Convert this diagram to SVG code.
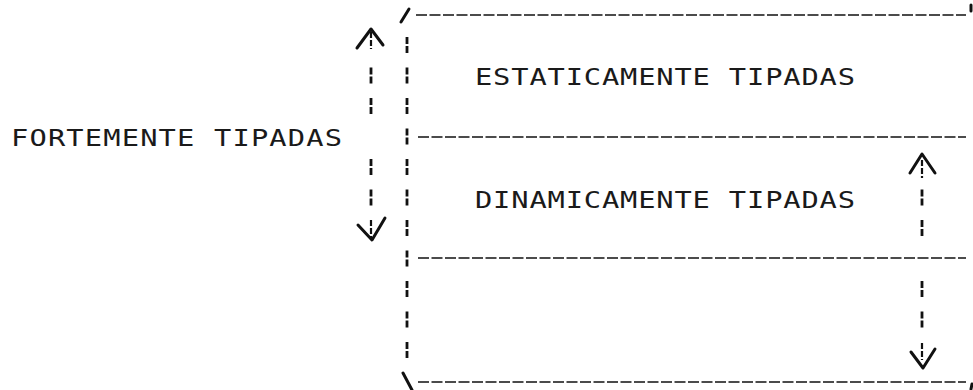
<svg xmlns="http://www.w3.org/2000/svg" width="973" height="390" viewBox="0 0 973 390">
<style>
.t{font-family:"DejaVu Sans Mono","Liberation Mono",monospace;font-size:23px;fill:#1a1a1a;}
.h{stroke:#111;stroke-width:1.7;stroke-dasharray:11 2.5;fill:none;}
.v{stroke:#111;stroke-width:2.8;stroke-dasharray:7 2 7 14.5;fill:none;}
.s{stroke:#111;stroke-width:3;fill:none;stroke-linecap:round;stroke-linejoin:round;}
.d{stroke:#111;stroke-width:2.2;stroke-dasharray:6 2;fill:none;}
</style>
<rect width="973" height="390" fill="#fff"/>
<g id="connectors">
<path class="s" d="M401,22 L409,9"/>
<path class="s" d="M403,373 L412,390"/>
<path class="s" d="M971,5 L971,11"/>
<path class="s" d="M972,384 L971,389"/>
<line class="h" x1="416" y1="15" x2="966" y2="15"/>
<line class="h" x1="418" y1="137" x2="966" y2="137"/>
<line class="h" x1="418" y1="258" x2="966" y2="258"/>
<line class="h" x1="418" y1="382" x2="966" y2="382"/>
<line class="v" x1="407" y1="37" x2="407" y2="358"/>
<g id="arrow-left">
<path class="s" d="M357,48 L371,29 L383,45"/>
<line class="d" x1="371" y1="32" x2="371" y2="49"/>
<line class="v" x1="371" y1="67.5" x2="371" y2="114"/>
<line class="v" x1="371" y1="159" x2="371" y2="206"/>
<path class="s" d="M358,225 L372,240 L385,218"/>
<line class="d" x1="371" y1="220" x2="371" y2="238"/>
</g>
<g id="arrow-right">
<path class="s" d="M910,173 L922,154 L935,173"/>
<line class="d" x1="922" y1="160" x2="922" y2="178"/>
<line class="v" x1="922" y1="189.5" x2="922" y2="236"/>
<line class="v" x1="922" y1="281" x2="922" y2="328"/>
<path class="s" d="M911,352 L923,368 L935,349"/>
<line class="d" x1="922" y1="343" x2="922" y2="360"/>
</g>
</g>
<g id="fortemente"><text class="t" transform="translate(11,146) scale(1.25,1)" textLength="264.8" lengthAdjust="spacing">FORTEMENTE TIPADAS</text></g>
<g id="estaticamente"><text class="t" transform="translate(475,85) scale(1.25,1)" textLength="304" lengthAdjust="spacing">ESTATICAMENTE TIPADAS</text></g>
<g id="dinamicamente"><text class="t" transform="translate(475,208) scale(1.25,1)" textLength="304" lengthAdjust="spacing">DINAMICAMENTE TIPADAS</text></g>
</svg>
